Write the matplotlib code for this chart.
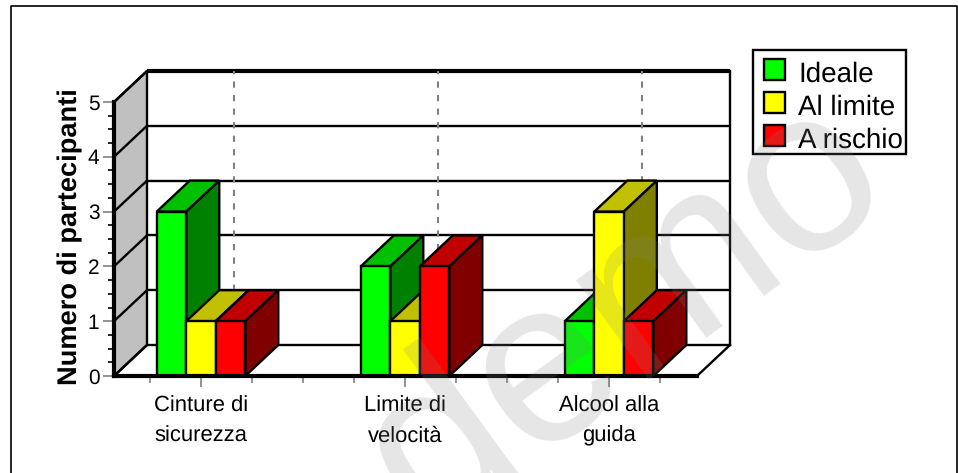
import matplotlib
matplotlib.use("Agg")
import matplotlib.pyplot as plt
from matplotlib.lines import Line2D
from matplotlib.patches import Polygon, Rectangle

categories = ["Cinture di\nsicurezza", "Limite di\nvelocità", "Alcool alla\nguida"]
series_names = ["Ideale", "Al limite", "A rischio"]
ideale = [3, 2, 1]
al_limite = [1, 1, 3]
a_rischio = [1, 2, 1]
series_values = [ideale, al_limite, a_rischio]
front_colors = ["#00FF00", "#FFFF00", "#FF0000"]
top_colors = ["#00C000", "#C0C000", "#C00000"]
side_colors = ["#008000", "#808000", "#800000"]

W, H = 958, 473
plt.rcParams["font.family"] = ["Liberation Sans", "DejaVu Sans"]
plt.rcParams["text.hinting"] = "no_hinting"

fig = plt.figure(figsize=(W / 100, H / 100), dpi=100)
ax = fig.add_axes([114 / W, 1 - 376 / H, 583 / W, 274 / H])
ax.set_xlim(-0.4265, 2.431)
ax.set_ylim(0, 5)

# oblique depth of the box, in data units
depth_x = 33 / 204
depth_y = 31 / 54.8
bar_w = 29.5 / 204
lw = 1.7


def face(points, color, z):
    ax.add_patch(Polygon(points, closed=True, facecolor=color, edgecolor="black",
                         linewidth=lw, zorder=z, clip_on=False, joinstyle="miter"))


x0, x1 = ax.get_xlim()

# side wall and floor
face([(x0, 0), (x0 + depth_x, depth_y), (x0 + depth_x, 5 + depth_y), (x0, 5)], "#C0C0C0", 1)
for v in range(6):
    ax.plot([x0, x0 + depth_x], [v, v + depth_y], color="black", lw=lw, zorder=2, clip_on=False)
    ax.plot([x0 + depth_x, x1 + depth_x], [v + depth_y, v + depth_y], color="black",
            lw=3 if v == 5 else lw, zorder=2, clip_on=False, solid_capstyle="butt")
ax.plot([x1 + depth_x, x1 + depth_x], [depth_y, 5 + depth_y], color="black", lw=lw, zorder=2, clip_on=False)
ax.plot([x1, x1 + depth_x], [0, depth_y], color="black", lw=lw, zorder=2, clip_on=False)

# dashed verticals on the back wall
for i in range(len(categories)):
    ax.plot([i + depth_x, i + depth_x], [depth_y, 5 + depth_y], color="#808080", lw=1.5,
            ls=(0, (3, 3.5)), zorder=2, clip_on=False)

# bars, left to right so later ones overlap earlier ones
z = 3
for i in range(len(categories)):
    for s, values in enumerate(series_values):
        left = i + (s - 1.5) * bar_w
        right = left + bar_w
        v = values[i]
        face([(left, v), (left + depth_x, v + depth_y), (right + depth_x, v + depth_y), (right, v)],
             top_colors[s], z)
        face([(right, 0), (right + depth_x, depth_y), (right + depth_x, v + depth_y), (right, v)],
             side_colors[s], z)
        face([(left, 0), (right, 0), (right, v), (left, v)], front_colors[s], z)

# axes
for name in ["top", "right"]:
    ax.spines[name].set_visible(False)
for name in ["left", "bottom"]:
    ax.spines[name].set_linewidth(3)
    ax.spines[name].set_zorder(20)
ax.patch.set_visible(False)

ax.set_yticks(range(6))
ax.set_yticks([v / 4 for v in range(21) if v % 4], minor=True)
ax.tick_params(axis="y", which="major", length=8, width=1.2, color="#808080", labelsize=15, pad=2.5)
ax.tick_params(axis="y", which="minor", length=4, width=1.2, color="black")
ax.set_xticks(range(3), categories)
ax.set_xticks([-0.25, 0.25, 0.5, 0.75, 1.25, 1.5, 1.75, 2.25], minor=True)
ax.tick_params(axis="x", which="major", length=8, width=1.2, color="#808080", labelsize=15.8, pad=6)
ax.tick_params(axis="x", which="minor", length=5, width=1.2, color="#808080")
for label in ax.get_xticklabels():
    label.set_linespacing(1.6)

fig.text(70 / W, 1 - 237 / H, "Numero di partecipanti", rotation=90, fontsize=19.6, fontweight="bold",
         ha="center", va="center")

# legend box, drawn by hand for its uneven padding
fig.add_artist(Rectangle((752.5 / W, 1 - 154 / H), 153 / W, 104 / H, transform=fig.transFigure,
                         facecolor="white", edgecolor="black", linewidth=lw))
for s, name in enumerate(series_names):
    row_top = 59 + s * 33
    fig.add_artist(Rectangle((763.5 / W, 1 - (row_top + 21) / H), 21 / W, 21 / H,
                             transform=fig.transFigure, facecolor=front_colors[s],
                             edgecolor="black", linewidth=lw))
    fig.text(798 / W, 1 - (row_top + 23) / H, name, fontsize=20, va="baseline", ha="left")

# frame, open along the lower edge
fig.add_artist(Line2D([10.5 / W, 10.5 / W, 956.5 / W, 956.5 / W],
                      [0, 1 - 6.5 / H, 1 - 6.5 / H, 0], color="black", lw=1.2))

# watermark
fig.text(626 / W, 1 - 316 / H, "demo", rotation=36, fontsize=168, color="#808080", alpha=0.2,
         ha="center", va="center", rotation_mode="anchor", zorder=50)

fig.savefig("out.png", dpi=100)
